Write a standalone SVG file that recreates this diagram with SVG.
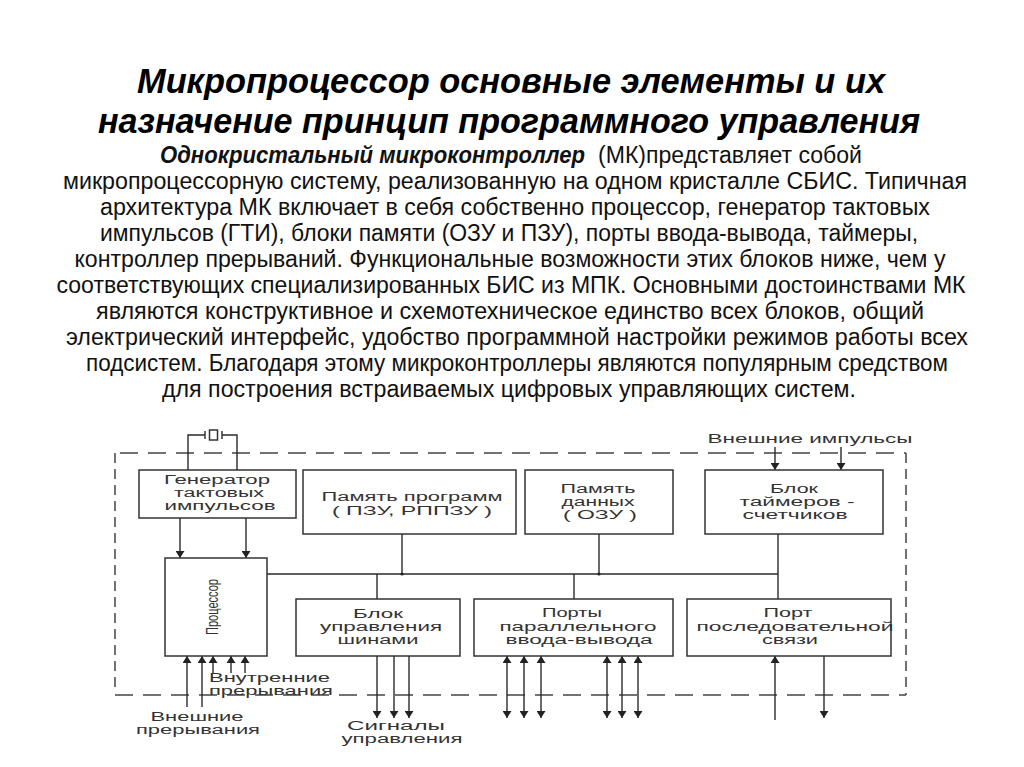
<svg xmlns="http://www.w3.org/2000/svg" width="1024" height="767" viewBox="0 0 1024 767">
<style>
.title{font-family:"Liberation Sans",Arial,sans-serif;font-weight:bold;font-style:italic;font-size:35px;fill:#000}
.p{font-family:"Liberation Sans",Arial,sans-serif;font-size:23px;fill:#111}
.pb{font-family:"Liberation Sans",Arial,sans-serif;font-size:23px;font-weight:bold;font-style:italic;fill:#111}
.lbl{font-family:"Liberation Sans",Arial,sans-serif;font-size:12px;fill:#333}
.rot{font-family:"Liberation Sans",Arial,sans-serif;font-size:17px;fill:#333}
.box{fill:#fff;stroke:#333;stroke-width:1.5}
.ln{fill:none;stroke:#2a2a2a;stroke-width:1.4}
.dh{fill:none;stroke:#444;stroke-width:1.5;stroke-dasharray:18 10}
.dv{fill:none;stroke:#444;stroke-width:1.5;stroke-dasharray:10 6}
</style>
<defs>
<marker id="ah" viewBox="0 0 10 10" refX="10" refY="5" markerWidth="7" markerHeight="9" markerUnits="userSpaceOnUse" preserveAspectRatio="none" orient="auto-start-reverse">
<path d="M0,0 L10,5 L0,10 z" fill="#222"/>
</marker>
</defs>
<rect width="1024" height="767" fill="#fff"/>
<g id="title">
<text class="title" x="511" y="93" text-anchor="middle" textLength="748" lengthAdjust="spacingAndGlyphs">Микропроцессор основные элементы и их</text>
<text class="title" x="509" y="133" text-anchor="middle" textLength="822" lengthAdjust="spacingAndGlyphs">назначение принцип программного управления</text>
</g>
<g id="paragraph">
<text class="pb" x="160" y="163" textLength="425" lengthAdjust="spacingAndGlyphs">Однокристальный микроконтроллер</text>
<text class="p" x="598" y="163" textLength="264" lengthAdjust="spacingAndGlyphs">(МК)представляет собой</text>
<text class="p" x="515" y="189" text-anchor="middle" textLength="904" lengthAdjust="spacingAndGlyphs">микропроцессорную систему, реализованную на одном кристалле СБИС. Типичная</text>
<text class="p" x="515" y="215" text-anchor="middle" textLength="830" lengthAdjust="spacingAndGlyphs">архитектура МК включает в себя собственно процессор, генератор тактовых</text>
<text class="p" x="509" y="241" text-anchor="middle" textLength="818" lengthAdjust="spacingAndGlyphs">импульсов (ГТИ), блоки памяти (ОЗУ и ПЗУ), порты ввода-вывода, таймеры,</text>
<text class="p" x="510" y="267" text-anchor="middle" textLength="871" lengthAdjust="spacingAndGlyphs">контроллер прерываний. Функциональные возможности этих блоков ниже, чем у</text>
<text class="p" x="511" y="293" text-anchor="middle" textLength="909" lengthAdjust="spacingAndGlyphs">соответствующих специализированных БИС из МПК. Основными достоинствами МК</text>
<text class="p" x="510" y="319" text-anchor="middle" textLength="828" lengthAdjust="spacingAndGlyphs">являются конструктивное и схемотехническое единство всех блоков, общий</text>
<text class="p" x="517" y="345" text-anchor="middle" textLength="902" lengthAdjust="spacingAndGlyphs">электрический интерфейс, удобство программной настройки режимов работы всех</text>
<text class="p" x="517" y="371" text-anchor="middle" textLength="862" lengthAdjust="spacingAndGlyphs">подсистем. Благодаря этому микроконтроллеры являются популярным средством</text>
<text class="p" x="509" y="397" text-anchor="middle" textLength="694" lengthAdjust="spacingAndGlyphs">для построения встраиваемых цифровых управляющих систем.</text>
</g>
<g id="border">
<line class="dh" x1="120" y1="453" x2="906" y2="453"/>
<line class="dh" x1="115" y1="695" x2="906" y2="695"/>
<line class="dv" x1="115" y1="453" x2="115" y2="690"/>
<line class="dv" x1="906" y1="453" x2="906" y2="695"/>
</g>
<g id="crystal">
<path class="ln" d="M188,470 V435 H205 M237,470 V435 H222"/>
<line class="ln" x1="205" y1="431" x2="205" y2="439"/>
<line class="ln" x1="222" y1="431" x2="222" y2="439"/>
<rect class="box" x="209.5" y="430" width="8" height="10" stroke-width="1.2"/>
</g>
<g id="connectors">
<line class="ln" x1="180" y1="518" x2="180" y2="558" marker-end="url(#ah)"/>
<line class="ln" x1="246" y1="518" x2="246" y2="558" marker-end="url(#ah)"/>
<line class="ln" x1="775" y1="447" x2="775" y2="470" marker-end="url(#ah)"/>
<line class="ln" x1="841" y1="447" x2="841" y2="470" marker-end="url(#ah)"/>
<path class="ln" d="M267,574 H778"/>
<line class="ln" x1="402" y1="534" x2="402" y2="574"/>
<line class="ln" x1="599" y1="534" x2="599" y2="574"/>
<line class="ln" x1="778" y1="534" x2="778" y2="599"/>
<line class="ln" x1="377" y1="574" x2="377" y2="599"/>
<line class="ln" x1="574" y1="574" x2="574" y2="599"/>
<circle cx="402" cy="574" r="1.6" fill="#222"/>
<circle cx="599" cy="574" r="1.6" fill="#222"/>
<line class="ln" x1="377" y1="656" x2="377" y2="718" marker-end="url(#ah)"/>
<line class="ln" x1="394" y1="656" x2="394" y2="718" marker-end="url(#ah)"/>
<line class="ln" x1="409" y1="656" x2="409" y2="718" marker-end="url(#ah)"/>
<line class="ln" x1="507" y1="656" x2="507" y2="718" marker-start="url(#ah)" marker-end="url(#ah)"/>
<line class="ln" x1="524" y1="656" x2="524" y2="718" marker-start="url(#ah)" marker-end="url(#ah)"/>
<line class="ln" x1="541" y1="656" x2="541" y2="718" marker-start="url(#ah)" marker-end="url(#ah)"/>
<line class="ln" x1="607" y1="656" x2="607" y2="718" marker-start="url(#ah)" marker-end="url(#ah)"/>
<line class="ln" x1="622" y1="656" x2="622" y2="718" marker-start="url(#ah)" marker-end="url(#ah)"/>
<line class="ln" x1="638" y1="656" x2="638" y2="718" marker-start="url(#ah)" marker-end="url(#ah)"/>
<line class="ln" x1="775" y1="720" x2="775" y2="656" marker-end="url(#ah)"/>
<line class="ln" x1="824" y1="656" x2="824" y2="718" marker-end="url(#ah)"/>
<line class="ln" x1="187" y1="707" x2="187" y2="656" marker-end="url(#ah)"/>
<line class="ln" x1="202" y1="707" x2="202" y2="656" marker-end="url(#ah)"/>
<line class="ln" x1="213" y1="673" x2="213" y2="656" marker-end="url(#ah)"/>
<line class="ln" x1="231" y1="673" x2="231" y2="656" marker-end="url(#ah)"/>
<line class="ln" x1="245" y1="673" x2="245" y2="656" marker-end="url(#ah)"/>
</g>
<g id="generator">
<rect class="box" x="139" y="470" width="157" height="48"/>
<text class="lbl" x="217" y="484" text-anchor="middle" textLength="106" lengthAdjust="spacingAndGlyphs">Генератор</text>
<text class="lbl" x="219" y="497" text-anchor="middle" textLength="90" lengthAdjust="spacingAndGlyphs">тактовых</text>
<text class="lbl" x="220" y="510" text-anchor="middle" textLength="111" lengthAdjust="spacingAndGlyphs">импульсов</text>
</g>
<g id="program-memory">
<rect class="box" x="303" y="470" width="213" height="64"/>
<text class="lbl" x="412" y="501" text-anchor="middle" textLength="181" lengthAdjust="spacingAndGlyphs">Память программ</text>
<text class="lbl" x="412" y="515" text-anchor="middle" textLength="160" lengthAdjust="spacingAndGlyphs">( ПЗУ, РППЗУ )</text>
</g>
<g id="data-memory">
<rect class="box" x="525" y="470" width="148" height="64"/>
<text class="lbl" x="598" y="493" text-anchor="middle" textLength="75" lengthAdjust="spacingAndGlyphs">Память</text>
<text class="lbl" x="598" y="506" text-anchor="middle" textLength="73" lengthAdjust="spacingAndGlyphs">данных</text>
<text class="lbl" x="600" y="519" text-anchor="middle" textLength="74" lengthAdjust="spacingAndGlyphs">( ОЗУ )</text>
</g>
<g id="timers">
<rect class="box" x="705" y="470" width="178" height="64"/>
<text class="lbl" x="794" y="493" text-anchor="middle" textLength="48" lengthAdjust="spacingAndGlyphs">Блок</text>
<text class="lbl" x="797" y="506" text-anchor="middle" textLength="115" lengthAdjust="spacingAndGlyphs">таймеров -</text>
<text class="lbl" x="795" y="519" text-anchor="middle" textLength="105" lengthAdjust="spacingAndGlyphs">счетчиков</text>
</g>
<g id="external-pulses">
<text class="lbl" x="810" y="443" text-anchor="middle" textLength="205" lengthAdjust="spacingAndGlyphs">Внешние импульсы</text>
</g>
<g id="processor">
<rect class="box" x="165" y="558" width="102" height="98"/>
<text class="rot" transform="translate(218,607) rotate(-90)" text-anchor="middle" textLength="56" lengthAdjust="spacingAndGlyphs">Процессор</text>
</g>
<g id="bus-control">
<rect class="box" x="296" y="599" width="164" height="57"/>
<text class="lbl" x="378" y="618" text-anchor="middle" textLength="50" lengthAdjust="spacingAndGlyphs">Блок</text>
<text class="lbl" x="381" y="631" text-anchor="middle" textLength="122" lengthAdjust="spacingAndGlyphs">управления</text>
<text class="lbl" x="378" y="644" text-anchor="middle" textLength="81" lengthAdjust="spacingAndGlyphs">шинами</text>
</g>
<g id="parallel-ports">
<rect class="box" x="474" y="599" width="199" height="57"/>
<text class="lbl" x="572" y="617" text-anchor="middle" textLength="60" lengthAdjust="spacingAndGlyphs">Порты</text>
<text class="lbl" x="578" y="631" text-anchor="middle" textLength="157" lengthAdjust="spacingAndGlyphs">параллельного</text>
<text class="lbl" x="579" y="644" text-anchor="middle" textLength="147" lengthAdjust="spacingAndGlyphs">ввода-вывода</text>
</g>
<g id="serial-port">
<rect class="box" x="687" y="599" width="204" height="57"/>
<text class="lbl" x="788" y="617" text-anchor="middle" textLength="49" lengthAdjust="spacingAndGlyphs">Порт</text>
<text class="lbl" x="795" y="631" text-anchor="middle" textLength="197" lengthAdjust="spacingAndGlyphs">последовательной</text>
<text class="lbl" x="790" y="644" text-anchor="middle" textLength="56" lengthAdjust="spacingAndGlyphs">связи</text>
</g>
<g id="labels">
<text class="lbl" x="209" y="682" textLength="121" lengthAdjust="spacingAndGlyphs">Внутренние</text>
<text class="lbl" x="209" y="695" textLength="124" lengthAdjust="spacingAndGlyphs">прерывания</text>
<text class="lbl" x="197" y="721" text-anchor="middle" textLength="93" lengthAdjust="spacingAndGlyphs">Внешние</text>
<text class="lbl" x="198" y="734" text-anchor="middle" textLength="124" lengthAdjust="spacingAndGlyphs">прерывания</text>
<text class="lbl" x="396" y="730" text-anchor="middle" textLength="98" lengthAdjust="spacingAndGlyphs">Сигналы</text>
<text class="lbl" x="402" y="743" text-anchor="middle" textLength="121" lengthAdjust="spacingAndGlyphs">управления</text>
</g>
</svg>
